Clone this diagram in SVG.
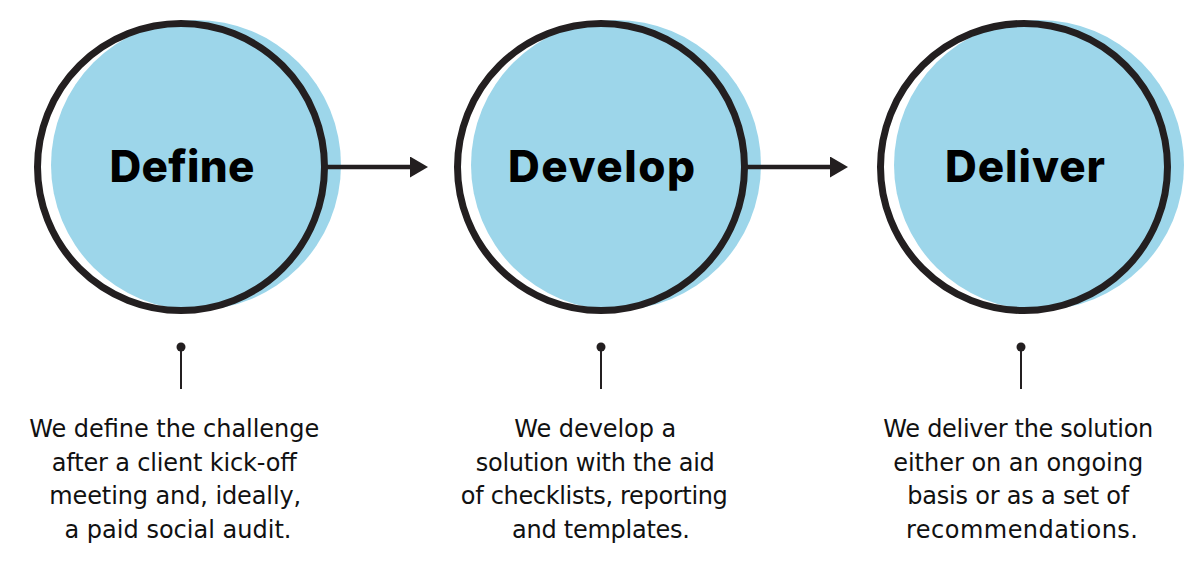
<svg xmlns="http://www.w3.org/2000/svg" width="1200" height="565" viewBox="0 0 1200 565">
  <defs>
    <marker id="arrowhead" viewBox="0 0 18 21" markerWidth="18" markerHeight="21" refX="2" refY="10.5" orient="auto" markerUnits="userSpaceOnUse">
      <path d="M0,0 L18,10.5 L0,21 Z" fill="#231F20"/>
    </marker>
    <style>
      .blob { fill: #9DD6EA; }
      .ring { fill: none; stroke: #231F20; stroke-width: 7; }
      .title { font-family: Inter, "Liberation Sans", sans-serif; font-weight: 800; font-size: 44px; fill: #000000; text-anchor: middle; }
      .desc { font-family: "DejaVu Sans", "Liberation Sans", sans-serif; font-weight: 400; font-size: 24px; fill: #111111; text-anchor: middle; }
      .pin-line { stroke: #231F20; stroke-width: 2; }
      .pin-dot { fill: #231F20; }
      .connector { stroke: #231F20; stroke-width: 4.5; fill: none; marker-end: url(#arrowhead); }
    </style>
  </defs>
  <rect width="1200" height="565" fill="#FFFFFF"/>

  <g id="node-define">
    <circle class="blob" cx="196" cy="165" r="145"/>
    <circle class="ring" cx="181" cy="167" r="143.5"/>
    <text class="title" x="182" y="182" textLength="145">Define</text>
    <line class="pin-line" x1="181" y1="347" x2="181" y2="389"/>
    <circle class="pin-dot" cx="181" cy="347" r="4.5"/>
    <text class="desc">
      <tspan x="178" y="437" textLength="290">We define the challenge</tspan>
      <tspan x="178" y="470.5" textLength="245">after a client kick-off</tspan>
      <tspan x="179" y="504" textLength="252">meeting and, ideally,</tspan>
      <tspan x="178" y="537.5" textLength="227">a paid social audit.</tspan>
    </text>
  </g>

  <g id="node-develop">
    <circle class="blob" cx="616" cy="165" r="145"/>
    <circle class="ring" cx="601" cy="167" r="143.5"/>
    <text class="title" x="601.5" y="182" textLength="187">Develop</text>
    <line class="pin-line" x1="601" y1="347" x2="601" y2="389"/>
    <circle class="pin-dot" cx="601" cy="347" r="4.5"/>
    <text class="desc">
      <tspan x="599" y="437" textLength="162">We develop a</tspan>
      <tspan x="599" y="470.5" textLength="239">solution with the aid</tspan>
      <tspan x="598" y="504" textLength="267">of checklists, reporting</tspan>
      <tspan x="601" y="537.5" textLength="178">and templates.</tspan>
    </text>
  </g>

  <g id="node-deliver">
    <circle class="blob" cx="1039" cy="165" r="145"/>
    <circle class="ring" cx="1024" cy="167" r="143.5"/>
    <text class="title" x="1025" y="182" textLength="160">Deliver</text>
    <line class="pin-line" x1="1021" y1="347" x2="1021" y2="389"/>
    <circle class="pin-dot" cx="1021" cy="347" r="4.5"/>
    <text class="desc">
      <tspan x="1022" y="437" textLength="270">We deliver the solution</tspan>
      <tspan x="1022" y="470.5" textLength="250">either on an ongoing</tspan>
      <tspan x="1022" y="504" textLength="222">basis or as a set of</tspan>
      <tspan x="1022" y="537.5" textLength="232">recommendations.</tspan>
    </text>
  </g>

  <g id="connectors">
    <line class="connector" x1="326" y1="167" x2="412" y2="167"/>
    <line class="connector" x1="746" y1="167" x2="832" y2="167"/>
  </g>
</svg>
